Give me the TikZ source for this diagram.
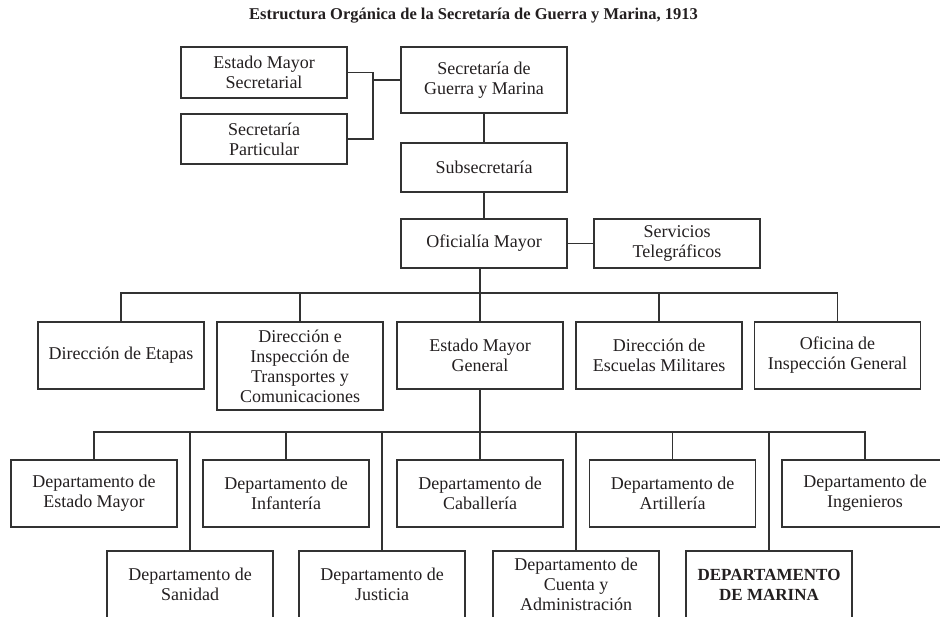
\documentclass[tikz,border=0pt]{standalone}
\usepackage{fontspec}
\setmainfont{Liberation Serif}
\definecolor{ink}{RGB}{35,31,32}
\definecolor{rule}{RGB}{50,50,50}
\begin{document}
\begin{tikzpicture}[x=1pt,y=-1pt,
  box/.style={draw=rule, line width=1.4pt, minimum width=166pt, inner sep=0pt,
    align=center, font=\fontsize{18}{20}\selectfont, text=ink},
  conn/.style={draw=rule, line width=1.4pt}]
\useasboundingbox (0,0) rectangle (940,617);
\clip (0,0) rectangle (940,617);
\node[text=ink, font=\bfseries\fontsize{16.5}{18}\selectfont] (title) at (473.5,16) {Estructura Orgánica de la Secretaría de Guerra y Marina, 1913};
% top level
\node[box, minimum height=51pt] (ems) at (264,72.5) {Estado Mayor\\Secretarial};
\node[box, minimum height=50pt] (sp) at (264,139) {Secretaría\\Particular};
\node[box, minimum height=66pt] (sgm) at (484,80) {Secretaría de\\Guerra y Marina};
\node[box, minimum height=49pt] (sub) at (484,167.5) {Subsecretaría};
\node[box, minimum height=49pt] (om) at (484,243.5) {Oficialía Mayor};
\node[box, minimum height=49pt] (st) at (677,243.5) {Servicios\\Telegráficos};
% level 3
\node[box, minimum height=67pt] (de) at (121,355.5) {Dirección de Etapas};
\node[box, minimum height=88pt] (di) at (300,366) {Dirección e\\Inspección de\\Transportes y\\Comunicaciones};
\node[box, minimum height=67pt] (emg) at (480,355.5) {Estado Mayor\\General};
\node[box, minimum height=67pt] (dem) at (659,355.5) {Dirección de\\Escuelas Militares};
\node[box, minimum height=67pt] (oig) at (837.5,355.5) {Oficina de\\Inspección General};
% level 4
\node[box, minimum height=67pt] (demy) at (94,493.5) {Departamento de\\Estado Mayor};
\node[box, minimum height=67pt] (inf) at (286,493.5) {Departamento de\\Infantería};
\node[box, minimum height=67pt] (cab) at (480,493.5) {Departamento de\\Caballería};
\node[box, minimum height=67pt] (art) at (672.5,493.5) {Departamento de\\Artillería};
\node[box, minimum height=67pt] (ing) at (865,493.5) {Departamento de\\Ingenieros};
% level 5
\node[box, minimum height=67pt] (san) at (190,584.5) {Departamento de\\Sanidad};
\node[box, minimum height=67pt] (jus) at (382,584.5) {Departamento de\\Justicia};
\node[box, minimum height=67pt] (cue) at (576,584.5) {Departamento de\\Cuenta y\\Administración};
\node[box, minimum height=67pt, font=\bfseries\fontsize{17}{20}\selectfont] (mar) at (769,584.5) {DEPARTAMENTO\\DE MARINA};
% connectors
\coordinate (jt) at (373,80);
\coordinate (b3) at (480,293);
\coordinate (b4) at (480,432);
\draw[conn] (ems.east) -| (jt |- sp.east) -- (sp.east);
\draw[conn] (sgm.west) -- (jt);
\draw[conn] (sgm) -- (sub);
\draw[conn] (sub) -- (om);
\draw[conn] (om) -- (st);
\draw[conn] (om.south -| emg.north) -- (emg.north);
\draw[conn] (de.north) |- (oig.north |- b3) -- (oig.north);
\draw[conn] (di.north) -- (di.north |- b3);
\draw[conn] (dem.north) -- (dem.north |- b3);
\draw[conn] (emg.south) -- (cab.north);
\draw[conn] (demy.north) |- (ing.north |- b4) -- (ing.north);
\draw[conn] (inf.north) -- (inf.north |- b4);
\draw[conn] (art.north) -- (art.north |- b4);
\draw[conn] (san.north) -- (san.north |- b4);
\draw[conn] (jus.north) -- (jus.north |- b4);
\draw[conn] (cue.north) -- (cue.north |- b4);
\draw[conn] (mar.north) -- (mar.north |- b4);
\end{tikzpicture}
\end{document}
